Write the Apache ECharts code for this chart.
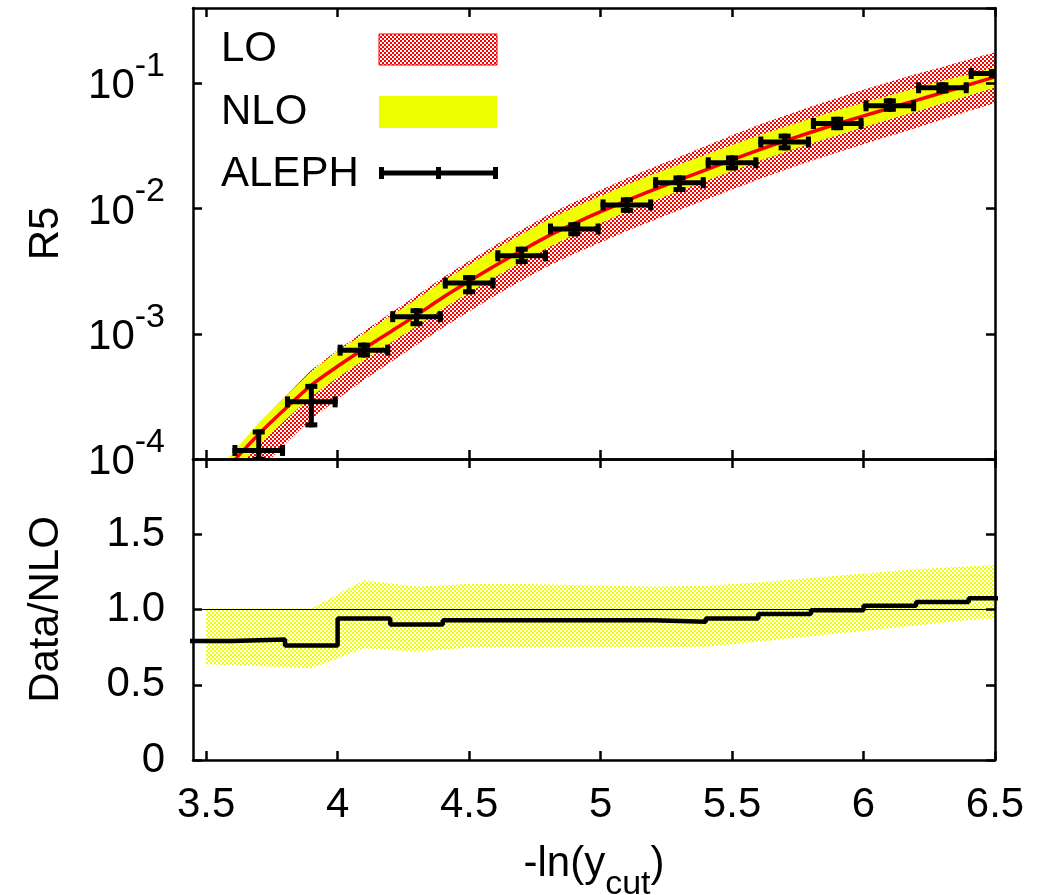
<!DOCTYPE html>
<html><head><meta charset="utf-8">
<script src="https://cdn.jsdelivr.net/npm/echarts@6/dist/echarts.min.js"></script>
<style>html,body{margin:0;padding:0;background:#fff}#c{width:1050px;height:895px}</style>
</head><body><div id="c"></div>
<script>
// ---------------- data ----------------
const bandX = [3.5,3.6,3.7,3.8,3.9,4.0,4.1,4.2,4.3,4.4,4.5,4.6,4.7,4.8,4.9,5.0,5.1,5.2,5.3,5.4,5.5,5.6,5.7,5.8,5.9,6.0,6.1,6.2,6.3,6.4,6.5];
const centralR5 = [5.01e-5,9.33e-5,1.58e-4,2.51e-4,3.89e-4,5.50e-4,7.59e-4,1.035e-3,1.41e-3,1.95e-3,2.63e-3,3.51e-3,4.62e-3,6.03e-3,7.59e-3,9.44e-3,1.16e-2,1.41e-2,1.70e-2,2.04e-2,2.45e-2,2.93e-2,3.47e-2,4.07e-2,4.75e-2,5.50e-2,6.34e-2,7.31e-2,8.43e-2,9.75e-2,0.1127];
const nloHi = [5.89e-5,1.11e-4,1.95e-4,3.16e-4,5.01e-4,7.24e-4,1.00e-3,1.38e-3,1.89e-3,2.63e-3,3.55e-3,4.73e-3,6.24e-3,8.13e-3,1.02e-2,1.26e-2,1.55e-2,1.88e-2,2.25e-2,2.69e-2,3.22e-2,3.82e-2,4.49e-2,5.25e-2,6.10e-2,7.00e-2,8.02e-2,9.20e-2,0.105,0.118,0.134];
const nloLo = [4.07e-5,7.59e-5,1.29e-4,2.04e-4,3.16e-4,4.47e-4,6.18e-4,8.45e-4,1.15e-3,1.59e-3,2.14e-3,2.85e-3,3.76e-3,4.90e-3,6.17e-3,7.67e-3,9.46e-3,1.15e-2,1.39e-2,1.67e-2,2.00e-2,2.39e-2,2.82e-2,3.31e-2,3.86e-2,4.47e-2,5.16e-2,5.97e-2,6.90e-2,8.02e-2,9.27e-2];
const loHi = [5.62e-5,1.07e-4,1.91e-4,3.16e-4,5.13e-4,7.41e-4,1.05e-3,1.46e-3,2.02e-3,2.82e-3,3.82e-3,5.13e-3,6.79e-3,8.91e-3,1.13e-2,1.41e-2,1.75e-2,2.14e-2,2.60e-2,3.16e-2,3.85e-2,4.65e-2,5.52e-2,6.53e-2,7.66e-2,8.91e-2,0.103,0.119,0.135,0.155,0.177];
const loLo = [2.40e-5,4.57e-5,7.94e-5,1.32e-4,2.09e-4,3.02e-4,4.27e-4,5.89e-4,8.13e-4,1.12e-3,1.51e-3,2.02e-3,2.66e-3,3.47e-3,4.35e-3,5.37e-3,6.61e-3,8.04e-3,9.73e-3,1.175e-2,1.42e-2,1.71e-2,2.03e-2,2.40e-2,2.81e-2,3.27e-2,3.80e-2,4.41e-2,5.14e-2,6.01e-2,6.95e-2];

const alephX   = [3.7,3.9,4.1,4.3,4.5,4.7,4.9,5.1,5.3,5.5,5.7,5.9,6.1,6.3,6.5];
const alephXLo = [3.6,3.8,4.0,4.2,4.4,4.6,4.8,5.0,5.2,5.4,5.6,5.8,6.0,6.2,6.4];
const alephXHi = [3.8,4.0,4.2,4.4,4.6,4.8,5.0,5.2,5.4,5.6,5.8,6.0,6.2,6.4,6.6];
const alephY   = [1.17e-4,2.86e-4,7.4e-4,1.37e-3,2.54e-3,4.2e-3,6.87e-3,1.07e-2,1.61e-2,2.32e-2,3.40e-2,4.78e-2,6.62e-2,9.23e-2,0.120];
const alephYHi = [1.72e-4,3.98e-4,8.5e-4,1.6e-3,2.94e-3,4.96e-3,7.78e-3,1.23e-2,1.84e-2,2.66e-2,3.97e-2,5.41e-2,7.59e-2,0.102,0.130];
const alephYLo = [9.5e-5,1.79e-4,6.47e-4,1.15e-3,2.07e-3,3.6e-3,6.01e-3,9.25e-3,1.355e-2,2.02e-2,2.92e-2,4.23e-2,5.93e-2,8.32e-2,0.110];

const ratioEdges = [3.4,3.6,3.8,4.0,4.2,4.4,4.6,4.8,5.0,5.2,5.4,5.6,5.8,6.0,6.2,6.4,6.6];
const ratioVals  = [0.79,0.80,0.76,0.94,0.90,0.928,0.928,0.928,0.928,0.918,0.94,0.97,0.995,1.025,1.05,1.075];

const ratioBandX  = [3.5,3.9,4.1,4.3,4.5,4.7,5.0,5.2,5.4,5.6,5.8,6.0,6.2,6.4,6.5];
const ratioBandHi = [1.007,1.007,1.195,1.151,1.169,1.169,1.16,1.151,1.157,1.18,1.21,1.24,1.268,1.288,1.295];
const ratioBandLo = [0.637,0.609,0.742,0.719,0.747,0.748,0.75,0.75,0.752,0.785,0.822,0.857,0.893,0.93,0.941];

const xTickValues = [3.5,4,4.5,5,5.5,6,6.5];
const ratioTickValues = [0,0.5,1,1.5,2];
const ratioLabelValues = [0,0.5,1,1.5];
const legendNames = ['LO','NLO','ALEPH'];

// ---------------- styling ----------------
const FONT = "'Liberation Sans', Arial, Helvetica, sans-serif";
const YELLOW = '#f0ff00';
function checker(color){
  const c = document.createElement('canvas'); c.width = 4; c.height = 4;
  const g = c.getContext('2d'); g.fillStyle = color;
  g.fillRect(0,0,2,2); g.fillRect(2,2,2,2); return c;
}
const redPattern = {image: checker('#ff0000'), repeat: 'repeat'};
const yellowPattern = {image: checker(YELLOW), repeat: 'repeat'};

const G = [{left:193, top:8, width:802, height:451}, {left:193, top:459, width:802, height:301}];
const tickStyle = {inside:true, length:9, lineStyle:{color:'#000', width:2.5}};
const lineStyleAxis = {show:true, onZero:false, lineStyle:{color:'#000', width:2.5}};

function xAx(grid, pos, labels){
  const a = {type:'value', gridIndex:grid, position:pos, min:3.45, max:6.5, z:10,
    axisLine:lineStyleAxis, splitLine:{show:false},
    axisTick:Object.assign({customValues:xTickValues}, tickStyle),
    axisLabel:{show:false}};
  if (labels) {
    a.axisLabel = {show:true, customValues:xTickValues, margin:24, color:'#000', fontSize:42, fontFamily:FONT,
      formatter: v => String(v)};
    a.name = '{n|-ln(y}{s|cut}{n|)}';
    a.nameLocation = 'middle';
    a.nameGap = 83;
    a.nameTextStyle = {color:'#000', fontFamily:FONT, fontSize:42, rich:{
      n:{fontSize:42, lineHeight:42, fontFamily:FONT, color:'#000', verticalAlign:'top'},
      s:{fontSize:34, lineHeight:34, fontFamily:FONT, color:'#000', verticalAlign:'top', padding:[25,0,0,0]}}};
  }
  return a;
}
function logAx(pos, labels){
  const a = {type:'log', logBase:10, gridIndex:0, position:pos, min:1e-4, max:0.4, z:10,
    axisLine:lineStyleAxis, splitLine:{show:false}, minorTick:{show:false},
    axisTick:tickStyle, axisLabel:{show:false}};
  if (labels) {
    a.axisLabel = {show:true, showMaxLabel:false, margin:28, padding:[0,0,9,0], color:'#000', fontSize:42, fontFamily:FONT,
      formatter: v => '{b|10}{e|' + Math.round(Math.log10(v)) + '}',
      rich:{
        b:{fontSize:42, lineHeight:58, fontFamily:FONT, color:'#000', verticalAlign:'bottom'},
        e:{fontSize:34, lineHeight:34, fontFamily:FONT, color:'#000', verticalAlign:'top'}}};
    a.name = 'R5'; a.nameLocation = 'middle'; a.nameGap = 126;
    a.nameTextStyle = {color:'#000', fontFamily:FONT, fontSize:42};
  }
  return a;
}
function ratioAx(pos, labels){
  const a = {type:'value', gridIndex:1, position:pos, min:0, max:2, z:10,
    axisLine:lineStyleAxis, splitLine:{show:false},
    axisTick:Object.assign({customValues:ratioTickValues}, tickStyle), axisLabel:{show:false}};
  if (labels) {
    a.axisLabel = {show:true, customValues:ratioLabelValues, margin:28, color:'#000', fontSize:42, fontFamily:FONT,
      formatter: v => v === 0 ? '0' : v.toFixed(1)};
    a.name = 'Data/NLO'; a.nameLocation = 'middle'; a.nameGap = 126;
    a.nameTextStyle = {color:'#000', fontFamily:FONT, fontSize:42};
  }
  return a;
}

function band(xs, lo, hi, fill, xi, yi, z){
  return {type:'custom', xAxisIndex:xi, yAxisIndex:yi, clip:true, z:z, silent:true,
    data: xs.map((x,i) => [x, lo[i], hi[i]]),
    renderItem(params, api){
      if (params.dataIndex !== 0) return null;
      const pts = [];
      for (let i = 0; i < xs.length; i++) pts.push(api.coord([xs[i], hi[i]]));
      for (let i = xs.length - 1; i >= 0; i--) pts.push(api.coord([xs[i], lo[i]]));
      return {type:'polygon', shape:{points:pts}, style:{fill:fill, stroke:null}};
    }};
}

const EBW = 5;
const ebStyle = {stroke:'#000', lineWidth:EBW};
function seg(x1,y1,x2,y2){ return {type:'line', shape:{x1,y1,x2,y2}, style:ebStyle}; }

const option = {
  animation:false,
  backgroundColor:'#fff',
  grid: G.map(g => Object.assign({containLabel:false, outerBoundsMode:'none', show:false}, g)),
  xAxis: [xAx(0,'bottom',false), xAx(0,'top',false), xAx(1,'bottom',true), xAx(1,'top',false)],
  yAxis: [logAx('left',true), logAx('right',false), ratioAx('left',true), ratioAx('right',false)],
  series: [
    band(bandX, loLo, loHi, redPattern, 0, 0, 1),
    band(bandX, nloLo, nloHi, YELLOW, 0, 0, 2),
    {type:'line', xAxisIndex:0, yAxisIndex:0, z:3, symbol:'none', smooth:0.3, silent:true,
     lineStyle:{color:'#ff0000', width:3.5}, data: bandX.map((x,i) => [x, centralR5[i]])},
    {type:'custom', name:legendNames[2], xAxisIndex:0, yAxisIndex:0, clip:true, z:4, silent:true,
     data: alephX.map((x,i) => [x, alephXLo[i], alephXHi[i], alephY[i], alephYLo[i], alephYHi[i]]),
     renderItem(params, api){
       const x = api.value(0), y = api.value(3);
       const pl = api.coord([api.value(1), y]), ph = api.coord([api.value(2), y]);
       const pyl = api.coord([x, api.value(4)]), pyh = api.coord([x, api.value(5)]);
       const c = 5.5, h = EBW / 2;
       return {type:'group', children:[
         seg(pl[0], pl[1], ph[0], ph[1]),
         seg(pl[0]+h, pl[1]-c, pl[0]+h, pl[1]+c),
         seg(ph[0]-h, ph[1]-c, ph[0]-h, ph[1]+c),
         seg(pyl[0], pyl[1], pyh[0], pyh[1]),
         seg(pyl[0]-c-0.5, pyl[1]-h, pyl[0]+c+0.5, pyl[1]-h),
         seg(pyh[0]-c-0.5, pyh[1]+h, pyh[0]+c+0.5, pyh[1]+h)
       ]};
     }},
    band(ratioBandX, ratioBandLo, ratioBandHi, yellowPattern, 2, 2, 1),
    {type:'line', xAxisIndex:2, yAxisIndex:2, z:4, step:'end', symbol:'none', silent:true,
     lineStyle:{color:'#000', width:4.5},
     data: ratioEdges.map((e,i) => [e, ratioVals[Math.min(i, ratioVals.length-1)]]),
     markLine:{silent:true, symbol:'none', label:{show:false}, animation:false,
       lineStyle:{color:'#000', width:1, type:'solid'}, data:[{yAxis:1}]}}
  ],
  graphic: {elements: [
    {type:'text', x:221, y:49, z:100, style:{text:legendNames[0], font:'42px ' + FONT, fill:'#000', verticalAlign:'middle'}},
    {type:'text', x:221, y:112, z:100, style:{text:legendNames[1], font:'42px ' + FONT, fill:'#000', verticalAlign:'middle'}},
    {type:'text', x:221, y:174, z:100, style:{text:legendNames[2], font:'42px ' + FONT, fill:'#000', verticalAlign:'middle'}},
    {type:'rect', z:100, shape:{x:379, y:34, width:118, height:31}, style:{fill:redPattern, stroke:'#ff0000', lineWidth:1}},
    {type:'rect', z:100, shape:{x:379, y:96, width:118, height:32}, style:{fill:YELLOW}},
    {type:'line', z:100, shape:{x1:379, y1:173, x2:498, y2:173}, style:{stroke:'#000', lineWidth:5}},
    {type:'line', z:100, shape:{x1:381.5, y1:167, x2:381.5, y2:179}, style:{stroke:'#000', lineWidth:5}},
    {type:'line', z:100, shape:{x1:438.5, y1:167, x2:438.5, y2:179}, style:{stroke:'#000', lineWidth:5}},
    {type:'line', z:100, shape:{x1:495.5, y1:167, x2:495.5, y2:179}, style:{stroke:'#000', lineWidth:5}}
  ]}
};
const chart = echarts.init(document.getElementById('c'), null, {renderer:'canvas'});
chart.setOption(option);
</script>
</body></html>
